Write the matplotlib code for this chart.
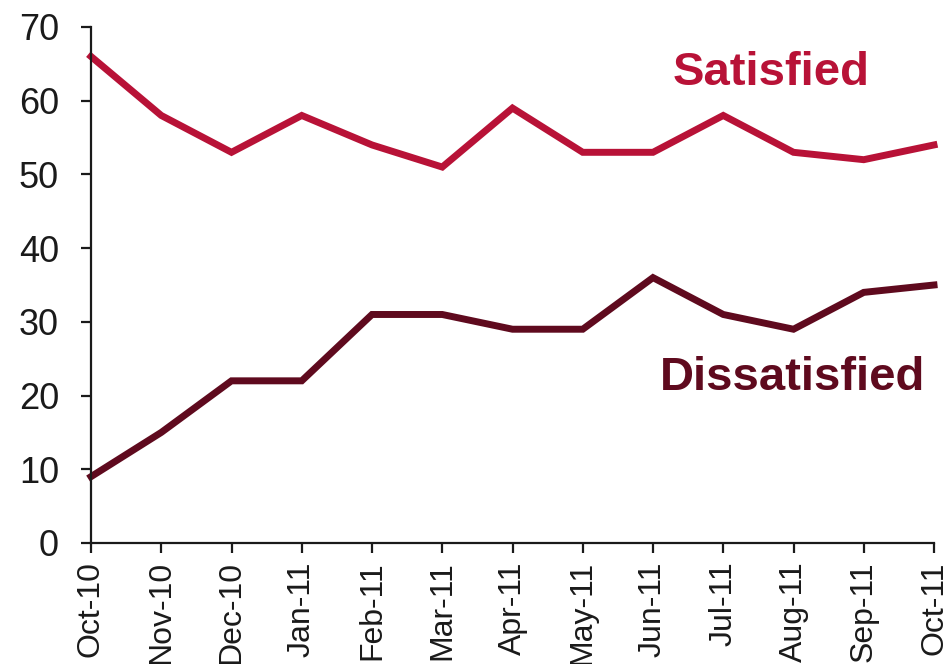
import matplotlib.pyplot as plt

# --- DATA ---
months = ["Oct-10", "Nov-10", "Dec-10", "Jan-11", "Feb-11", "Mar-11", "Apr-11",
          "May-11", "Jun-11", "Jul-11", "Aug-11", "Sep-11", "Oct-11"]
satisfied = [66, 58, 53, 58, 54, 51, 59, 53, 53, 58, 53, 52, 54]
dissatisfied = [9, 15, 22, 22, 31, 31, 29, 29, 36, 31, 29, 34, 35]
# ------------

SAT_COLOR = "#B81237"
DIS_COLOR = "#5F0A1E"

plt.rcParams['font.family'] = ['Liberation Sans', 'DejaVu Sans']

fig = plt.figure(figsize=(9.48, 6.64), dpi=100)
ax = fig.add_axes([91 / 948, 1 - 543 / 664, (934 - 91) / 948, (543 - 27) / 664])

x = range(len(months))
ax.plot(x, satisfied, color=SAT_COLOR, linewidth=5, clip_on=False, solid_joinstyle='miter')
ax.plot(x, dissatisfied, color=DIS_COLOR, linewidth=5, clip_on=False, solid_joinstyle='miter')

ax.text(9.68, 63.8, "Satisfied", color=SAT_COLOR, fontsize=34, fontweight='bold',
        ha='center', va='center')
ax.text(9.98, 22.4, "Dissatisfied", color=DIS_COLOR, fontsize=34, fontweight='bold',
        ha='center', va='center')

ax.set_xlim(0, len(months) - 1)
ax.set_ylim(0, 70)
ax.set_yticks(range(0, 71, 10))
ax.set_xticks(list(x))
ax.set_xticklabels(months, rotation=90)

for side in ["top", "right"]:
    ax.spines[side].set_visible(False)
for side in ["left", "bottom"]:
    ax.spines[side].set_linewidth(1.6)
    ax.spines[side].set_color("#1a1a1a")

ax.tick_params(axis='y', labelsize=26, length=7, width=1.6, direction='out', pad=16, colors="#1a1a1a")
ax.tick_params(axis='x', labelsize=23, length=7, width=1.6, direction='out', pad=6, colors="#1a1a1a")

fig.savefig("out.png", dpi=100)
